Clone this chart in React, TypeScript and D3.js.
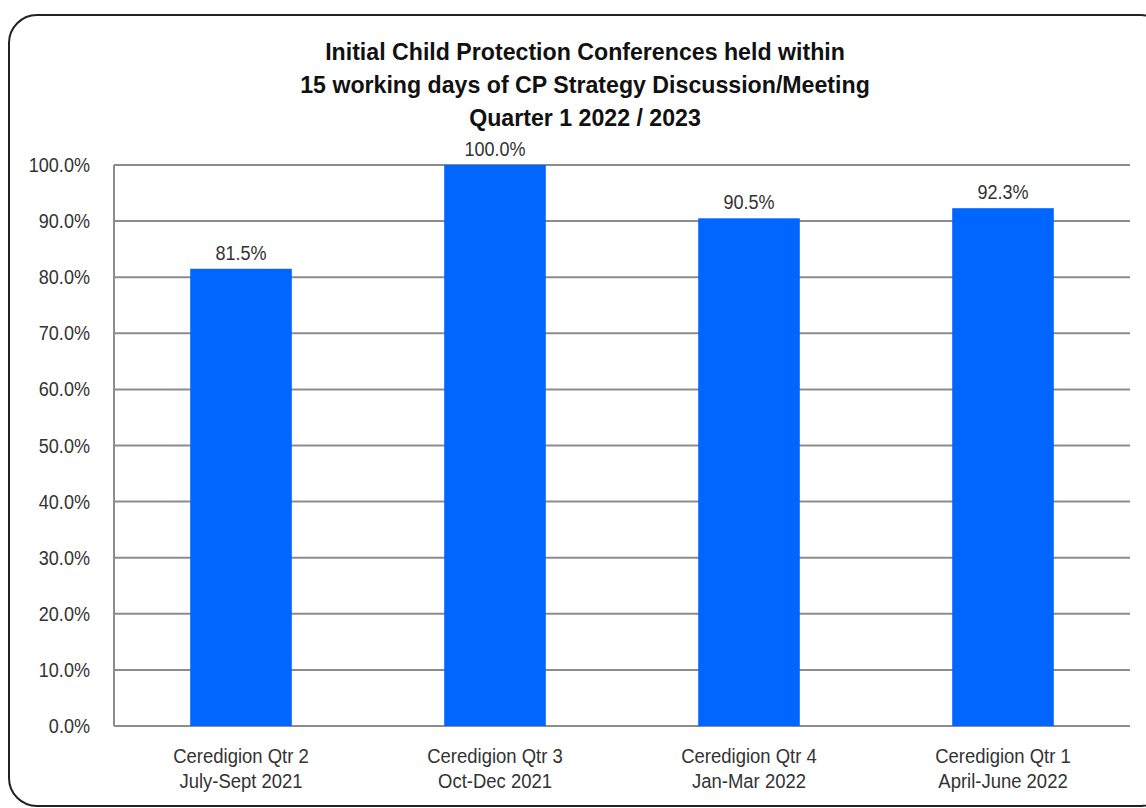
import React from "react";
import * as d3 from "d3";

const categories = [
  ["Ceredigion Qtr 2", "July-Sept 2021"],
  ["Ceredigion Qtr 3", "Oct-Dec 2021"],
  ["Ceredigion Qtr 4", "Jan-Mar 2022"],
  ["Ceredigion Qtr 1", "April-June 2022"],
];
const values = [81.5, 100.0, 90.5, 92.3];
const yTicks = [0, 10, 20, 30, 40, 50, 60, 70, 80, 90, 100];
const titleLines = [
  "Initial Child Protection Conferences held within",
  "15 working days of CP Strategy Discussion/Meeting",
  "Quarter 1 2022 / 2023",
];

const W = 1146, H = 808;
const left = 114, right = 1130, top = 165, bottom = 726;
const font = "'Liberation Sans Narrow', 'Arial Narrow', 'Liberation Sans', Arial, sans-serif";

function NText(props: { x: number; y: number; anchor: string; size: number; sx: number; bold?: boolean; fill?: string; children: React.ReactNode }) {
  const { x, y, anchor, size, sx, bold, fill, children } = props;
  return (
    <text
      transform={`translate(${x},${y}) scale(${sx},1)`}
      textAnchor={anchor}
      fontFamily={font}
      fontWeight={bold ? "bold" : "normal"}
      fontSize={size}
      fill={fill || "#333"}
    >
      {children}
    </text>
  );
}

export default function App() {
  const x = d3.scaleBand<number>().domain(d3.range(values.length)).range([left, right]).paddingInner(0.6).paddingOuter(0.3);
  const y = d3.scaleLinear().domain([0, 100]).range([bottom, top]);
  return (
    <svg width={W} height={H} style={{ position: "absolute", left: 0, top: 0 }}>
      <rect x={0} y={0} width={W} height={H} fill="#fff" />
      <rect x={9} y={15} width={1160} height={791} rx={28} ry={28} fill="#fff" stroke="#222" strokeWidth={2} />
      {titleLines.map((t, i) => (
        <NText key={i} x={585} y={60 + i * 33} anchor="middle" size={24} sx={0.965} bold fill="#111">{t}</NText>
      ))}
      {yTicks.map((t) => (
        <g key={t}>
          <line x1={left} x2={right} y1={y(t)} y2={y(t)} stroke="#8c8c8c" strokeWidth={2} />
          <NText x={90} y={y(t) + 7} anchor="end" size={21} sx={0.86}>{t.toFixed(1)}%</NText>
        </g>
      ))}
      <line x1={left} x2={left} y1={top} y2={bottom} stroke="#8c8c8c" strokeWidth={2} />
      {values.map((v, i) => {
        const bx = x(i)!;
        const cx = bx + x.bandwidth() / 2;
        return (
          <g key={i}>
            <rect x={bx} y={y(v)} width={x.bandwidth()} height={bottom - y(v)} fill="#0066ff" />
            <NText x={cx} y={y(v) - 9} anchor="middle" size={21} sx={0.86}>{v.toFixed(1)}%</NText>
            {categories[i].map((l, j) => (
              <NText key={j} x={cx} y={763 + j * 25} anchor="middle" size={21} sx={0.88}>{l}</NText>
            ))}
          </g>
        );
      })}
    </svg>
  );
}
